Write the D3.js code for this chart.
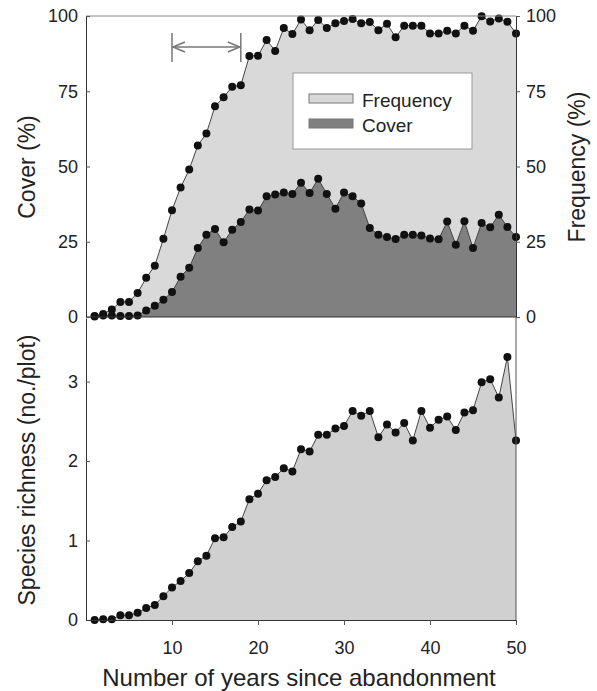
<!DOCTYPE html>
<html>
<head>
<meta charset="utf-8">
<script src="https://cdn.jsdelivr.net/npm/d3@7.9.0/dist/d3.min.js"></script>
<style>
  body { margin: 0; background: #fff; }
  text { font-family: "Liberation Sans", Arial, sans-serif; fill: #222; }
</style>
</head>
<body>
<svg width="597" height="691"></svg>
<script>
// years since abandonment
const years = [1,2,3,4,5,6,7,8,9,10,11,12,13,14,15,16,17,18,19,20,
  21,22,23,24,25,26,27,28,29,30,31,32,33,34,35,36,37,38,39,40,
  41,42,43,44,45,46,47,48,49,50];

// frequency (%) - upper series in the top panel
const frequency = [0.3,1,2.5,5,5,8,13,17,26,35.5,43,49,57,61,70,73,76.5,77,86.7,86.8,
  92,88.4,96,94,98.8,95.3,98.7,96,97.6,98.3,99,97.6,98,95.3,97.4,92.9,96.8,96.8,96.8,94.2,
  94.2,95.1,94.2,96.8,95.1,99.9,98.2,99.2,98.1,94.2];

// cover (%) - lower series in the top panel
const cover = [0.2,0.5,0.5,0.3,0.3,0.5,2.2,3.7,5.7,8.3,13.4,16.4,22.9,27.3,29.2,24.8,29,31.6,35.7,35.4,
  40.1,40.7,41.4,40.9,44.6,41.2,45.9,40.9,36,41.4,40.1,37.7,29.6,27.3,26.6,25.9,27.3,27.3,27.1,26.1,
  25.8,31.7,24,31.8,22.9,31.2,29.8,34,29.9,26.6];

// species richness (no./plot) - bottom panel
const richness = [0,0.01,0.01,0.06,0.06,0.09,0.15,0.19,0.3,0.41,0.49,0.59,0.74,0.81,1.03,1.04,1.17,1.24,1.52,1.59,
  1.76,1.8,1.91,1.87,2.15,2.12,2.33,2.33,2.41,2.44,2.63,2.57,2.63,2.3,2.46,2.36,2.48,2.26,2.63,2.42,
  2.52,2.56,2.39,2.61,2.64,2.99,3.03,2.8,3.31,2.26];

const pctTicks = [0,25,50,75,100];
const richTicks = [0,1,2,3];
const yearTicks = [10,20,30,40,50];
const legendLabels = ["Frequency", "Cover"];
const arrowSpan = [10, 18];

const svg = d3.select("svg");
const left = 86, right = 516;
const topY = 16, midY = 317, botY = 620;

let x = d3.scaleLinear().domain([0, 50]).range([left, right]);
let yPct = d3.scaleLinear().domain([0, 100]).range([midY, topY]);
let yRich = d3.scaleLinear().domain([0, 3.8]).range([botY, midY + 1]);

const lightFill = "#d9d9d9", darkFill = "#808080", richFill = "#d0d0d0";

function drawSeries(values, yScale, fill) {
  let pts = years.map((yr, i) => [yr, values[i]]);
  let area = d3.area().x(d => x(d[0])).y0(yScale(0)).y1(d => yScale(d[1]));
  svg.append("path").attr("d", area(pts)).attr("fill", fill);
  return pts;
}

function drawLine(pts, yScale) {
  let line = d3.line().x(d => x(d[0])).y(d => yScale(d[1]));
  svg.append("path").attr("d", line(pts)).attr("fill", "none")
    .attr("stroke", "#444").attr("stroke-width", 1);
  svg.append("g").selectAll("circle").data(pts).join("circle")
    .attr("cx", d => x(d[0])).attr("cy", d => yScale(d[1]))
    .attr("r", 4).attr("fill", "#111");
}

// top panel
let freqPts = drawSeries(frequency, yPct, lightFill);
let coverPts = drawSeries(cover, yPct, darkFill);
drawLine(freqPts, yPct);
drawLine(coverPts, yPct);

// bottom panel
let richPts = drawSeries(richness, yRich, richFill);
drawLine(richPts, yRich);

// frame lines
svg.append("line").attr("x1", left).attr("x2", right).attr("y1", topY).attr("y2", topY)
  .attr("stroke", "#888");
svg.append("line").attr("x1", left).attr("x2", right).attr("y1", midY).attr("y2", midY)
  .attr("stroke", "#333");
svg.append("line").attr("x1", right).attr("x2", right).attr("y1", midY).attr("y2", botY)
  .attr("stroke", "#555");

// axes
function styleAxis(g) {
  g.selectAll("path").attr("stroke", "#333");
  g.selectAll("line").attr("stroke", "#555");
  g.selectAll("text").attr("font-size", 18).attr("fill", "#222")
    .attr("font-family", "'Liberation Sans', Arial, sans-serif");
}

svg.append("g").attr("transform", `translate(${left},0)`)
  .call(d3.axisLeft(yPct).tickValues(pctTicks).tickSizeInner(-4).tickSizeOuter(0).tickPadding(8))
  .call(styleAxis);
svg.append("g").attr("transform", `translate(${right},0)`)
  .call(d3.axisRight(yPct).tickValues(pctTicks).tickSizeInner(4).tickSizeOuter(0).tickPadding(6))
  .call(styleAxis);
svg.append("g").attr("transform", `translate(${left},0)`)
  .call(d3.axisLeft(yRich).tickValues(richTicks).tickFormat(d3.format("d"))
    .tickSizeInner(-4).tickSizeOuter(0).tickPadding(8))
  .call(styleAxis);
svg.append("g").attr("transform", `translate(0,${botY})`)
  .call(d3.axisBottom(x).tickValues(yearTicks).tickSizeInner(5).tickSizeOuter(0).tickPadding(16))
  .call(styleAxis);

// axis titles
svg.append("text").attr("transform", "translate(35,167) rotate(-90)")
  .attr("text-anchor", "middle").attr("font-size", 23).text("Cover (%)");
svg.append("text").attr("transform", "translate(585,167) rotate(-90)")
  .attr("text-anchor", "middle").attr("font-size", 23).text("Frequency (%)");
svg.append("text").attr("transform", "translate(35,470) rotate(-90)")
  .attr("text-anchor", "middle").attr("font-size", 23).text("Species richness (no./plot)");
svg.append("text").attr("x", 299).attr("y", 686)
  .attr("text-anchor", "middle").attr("font-size", 24).text("Number of years since abandonment");

// legend
let legend = svg.append("g");
legend.append("rect").attr("x", 293).attr("y", 73).attr("width", 179).attr("height", 76)
  .attr("fill", "#fff").attr("stroke", "#999");
[lightFill, darkFill].forEach((c, i) => {
  legend.append("rect").attr("x", 309).attr("y", 94 + i * 25).attr("width", 44).attr("height", 9)
    .attr("fill", c).attr("stroke", "#777");
  legend.append("text").attr("x", 362).attr("y", 107 + i * 25)
    .attr("font-size", 19).text(legendLabels[i]);
});

// arrow marking years 10-18
let ax0 = x(arrowSpan[0]), ax1 = x(arrowSpan[1]), ay = 47;
let arrow = svg.append("g").attr("stroke", "#777").attr("stroke-width", 1.5).attr("fill", "none");
arrow.append("line").attr("x1", ax0).attr("x2", ax0).attr("y1", 33).attr("y2", 62);
arrow.append("line").attr("x1", ax1).attr("x2", ax1).attr("y1", 33).attr("y2", 62);
arrow.append("line").attr("x1", ax0 + 1).attr("x2", ax1 - 1).attr("y1", ay).attr("y2", ay);
arrow.append("path").attr("d", `M${ax0 + 13},${ay - 5}L${ax0 + 1},${ay}L${ax0 + 13},${ay + 5}`);
arrow.append("path").attr("d", `M${ax1 - 13},${ay - 5}L${ax1 - 1},${ay}L${ax1 - 13},${ay + 5}`);
</script>
</body>
</html>
